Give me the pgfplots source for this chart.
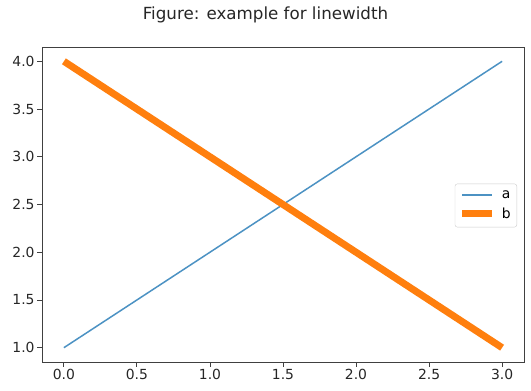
\documentclass[border=0pt]{standalone}
\usepackage{pgfplots}
\pgfplotsset{compat=1.18}
\usepackage{fontspec}
\setmainfont{DejaVu Sans}
\definecolor{cA}{HTML}{1F77B4}
\definecolor{cB}{HTML}{FF7F0E}
\begin{document}
\begin{tikzpicture}[x=1pt,y=1pt]
\useasboundingbox (-42,-29) rectangle (489,362);
\begin{axis}[
  at={(0,0)}, anchor=south west,
  scale only axis, width=482pt, height=315pt,
  xmin=-0.15, xmax=3.15, ymin=0.85, ymax=4.15,
  xtick={0,0.5,...,3}, ytick={1,1.5,...,4},
  xtick pos=left, ytick pos=left,
  tick align=outside, major tick length=4.9pt,
  tick style={black!75, line width=0.9pt},
  axis line style={black!75, line width=0.9pt},
  every tick label/.append style={font=\fontsize{13.9}{16}\selectfont, text=black!85},
  /pgf/number format/assume math mode=true,
  /pgf/number format/.cd, fixed, fixed zerofill, precision=1, /tikz/.cd,
  xticklabel style={yshift=1pt},
  yticklabel style={xshift=1pt},
  legend style={at={(1,0.5)}, anchor=east, xshift=-7pt, yshift=-1pt,
    draw=black!20, rounded corners=2.5pt, fill=white, fill opacity=0.8, text opacity=1,
    font=\fontsize{13.9}{16}\selectfont, row sep=4pt, inner xsep=4pt, inner ysep=5pt},
  legend cell align=left,
  legend image code/.code={\draw[#1, draw opacity=1] (0pt,0.6pt) -- (30pt,0.6pt); \path (34pt,0pt);},
  clip=false,
]
\addplot[cA!80, line width=1.5pt] coordinates {(0,1) (1,2) (2,3) (3,4)};
\addlegendentry{a}
\addplot[cB, line width=7pt] coordinates {(0,4) (1,3) (2,2) (3,1)};
\addlegendentry{b}
\end{axis}
\node[font=\fontsize{16.7}{19}\selectfont, text=black!85] at (223.5,347) {Figure: example for linewidth};
\end{tikzpicture}
\end{document}
